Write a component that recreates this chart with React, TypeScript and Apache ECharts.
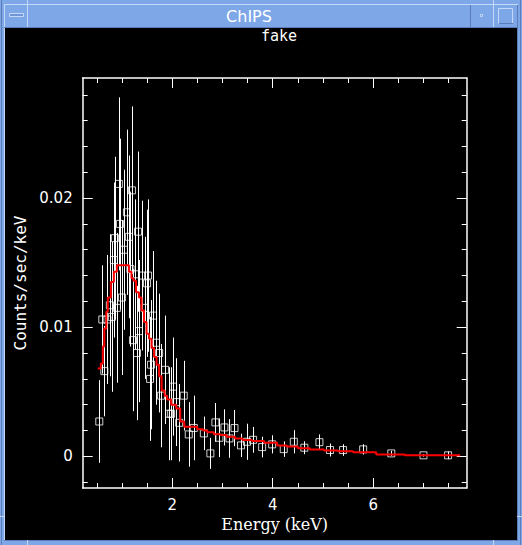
import React, { useEffect, useRef } from "react";
import * as echarts from "echarts";

// Observed spectrum (binned), keV / counts per sec per keV
const energy = [
  0.55, 0.61, 0.65, 0.71, 0.76, 0.8, 0.84, 0.86, 0.9, 0.94, 0.96, 1.0, 1.04, 1.1, 1.14, 1.17, 1.2, 1.22,
  1.26, 1.3, 1.32, 1.34, 1.4, 1.45, 1.5, 1.52, 1.56, 1.58, 1.62, 1.68, 1.74, 1.78, 1.86, 1.94, 1.98, 2.02,
  2.08, 2.14, 2.23, 2.33, 2.43, 2.63, 2.76, 2.86, 2.94, 3.04, 3.14, 3.24, 3.37, 3.49, 3.61, 3.79, 3.99,
  4.22, 4.42, 4.63, 4.93, 5.14, 5.4, 5.8, 6.36, 7.0, 7.49,
];
const rate = [
  0.0027, 0.0106, 0.0066, 0.0106, 0.0117, 0.0108, 0.0152, 0.0169, 0.0115, 0.0211, 0.018, 0.0123, 0.016,
  0.0189, 0.017, 0.0145, 0.0206, 0.009, 0.0141, 0.008, 0.0174, 0.0097, 0.014, 0.0115, 0.0134, 0.014,
  0.006, 0.0071, 0.0109, 0.0088, 0.008, 0.0047, 0.0067, 0.0033, 0.0033, 0.0054, 0.0042, 0.0026, 0.0047,
  0.0017, 0.0022, 0.00178, 0.00023, 0.00263, 0.00144, 0.00224, 0.00139, 0.00219, 0.00085, 0.00113,
  0.00128, 0.00072, 0.00093, 0.00056, 0.00113, 0.00067, 0.0011, 0.00049, 0.00049, 0.00054, 0.00023,
  0.00008, 0.00008,
];
const rateErr = [
  0.0032, 0.0042, 0.0035, 0.005, 0.0055, 0.0058, 0.006, 0.0063, 0.0058, 0.0067, 0.0066, 0.006, 0.0062,
  0.0064, 0.0063, 0.006, 0.0065, 0.0055, 0.0058, 0.0052, 0.0062, 0.0055, 0.0058, 0.0055, 0.0057, 0.0059,
  0.0048, 0.005, 0.005, 0.0048, 0.0046, 0.004, 0.0042, 0.0036, 0.0036, 0.0038, 0.0034, 0.003, 0.0027,
  0.0025, 0.0025, 0.0013, 0.0012, 0.0015, 0.0015, 0.0014, 0.0015, 0.0014, 0.0009, 0.0014, 0.001, 0.0008,
  0.0007, 0.0006, 0.0009, 0.0005, 0.0006, 0.0005, 0.00045, 0.0004, 0.0002, 0.0001, 0.0003,
];

// Folded model (histogram: left bin edge, value)
const modelEdge = [
  0.52, 0.58, 0.62, 0.65, 0.69, 0.72, 0.78, 0.84, 0.9, 1.14, 1.19, 1.23, 1.28, 1.34, 1.39, 1.44, 1.49,
  1.54, 1.59, 1.64, 1.69, 1.74, 1.79, 1.85, 1.9, 1.98, 2.08, 2.16, 2.24, 2.5, 2.62, 2.7, 2.83, 2.96, 3.08,
  3.25, 3.4, 3.59, 3.83, 4.09, 4.28, 4.5, 4.74, 5.02, 5.3, 5.6, 6.06, 6.63, 7.73,
];
const modelRate = [
  0.0068, 0.0072, 0.0085, 0.0099, 0.0112, 0.0123, 0.0135, 0.0143, 0.0148, 0.0143, 0.0138, 0.0136, 0.0127,
  0.0123, 0.0113, 0.0104, 0.0095, 0.0091, 0.0084, 0.0077, 0.0071, 0.0062, 0.0051, 0.0047, 0.0044, 0.004,
  0.0037, 0.0027, 0.0023, 0.0021, 0.002, 0.00186, 0.00172, 0.00165, 0.00152, 0.00139, 0.00126, 0.00118,
  0.00105, 0.00085, 0.00077, 0.00062, 0.00054, 0.00046, 0.00039, 0.00031, 0.00015, 0.00008, 0.00008,
];

const xTickMajor = [2, 4, 6];
const xTickMinor = [0.5, 1, 1.5, 2.5, 3, 3.5, 4.5, 5, 5.5, 6.5, 7, 7.5];
const yTickMajor = [0, 0.01, 0.02];
const yTickMinor = [-0.002, 0.002, 0.004, 0.006, 0.008, 0.012, 0.014, 0.016, 0.018, 0.022, 0.024, 0.026, 0.028];

const X_MIN = 0.22;
const X_MAX = 7.86;
const Y_MIN = -0.00245;
const Y_MAX = 0.0293;

const W = 522;
const H = 545;
const BLUE = "#7ea7e7";
const LIGHT = "#c4d8f8";
const DARK = "#5a7cb8";

export default function App() {
  const ref = useRef<HTMLDivElement>(null);

  useEffect(() => {
    if (!ref.current) return;
    document.body.style.margin = "0";
    const chart = echarts.init(ref.current, undefined, { renderer: "svg", width: W, height: H });

    const gridBox = {
      left: 82.7,
      top: 78,
      right: W - 466.7,
      bottom: H - 488,
      containLabel: false,
      outerBoundsMode: "none",
    };

    const white = "#ffffff";
    const mkX = (grid: number, pos: string, major: boolean) => ({
      type: "value",
      gridIndex: grid,
      position: pos,
      min: X_MIN,
      max: X_MAX,
      axisLine: { show: major, onZero: false, lineStyle: { color: white, width: 1.5 } },
      axisTick: {
        show: true,
        inside: true,
        length: major ? 10 : 5,
        customValues: major ? xTickMajor : xTickMinor,
        lineStyle: { color: white, width: 1 },
      },
      axisLabel:
        major && pos === "bottom"
          ? {
              show: true,
              customValues: xTickMajor,
              color: white,
              fontSize: 15,
              fontFamily: "DejaVu Sans",
              margin: 9,
            }
          : { show: false },
      splitLine: { show: false },
      ...(major && pos === "bottom"
        ? {
            name: "Energy (keV)",
            nameLocation: "middle",
            nameGap: 28,
            nameTextStyle: { color: white, fontSize: 16, fontFamily: "DejaVu Serif" },
          }
        : {}),
    });
    const mkY = (grid: number, pos: string, major: boolean) => ({
      type: "value",
      gridIndex: grid,
      position: pos,
      min: Y_MIN,
      max: Y_MAX,
      axisLine: { show: major, onZero: false, lineStyle: { color: white, width: 1.5 } },
      axisTick: {
        show: true,
        inside: true,
        length: major ? 10 : 5,
        customValues: major ? yTickMajor : yTickMinor,
        lineStyle: { color: white, width: 1 },
      },
      axisLabel:
        major && pos === "left"
          ? {
              show: true,
              customValues: yTickMajor,
              color: white,
              fontSize: 15,
              fontFamily: "DejaVu Sans",
              margin: 10,
            }
          : { show: false },
      splitLine: { show: false },
      ...(major && pos === "left"
        ? {
            name: "Counts/sec/keV",
            nameLocation: "middle",
            nameGap: 53,
            nameTextStyle: { color: white, fontSize: 16, fontFamily: "DejaVu Sans Mono" },
          }
        : {}),
    });

    const option: any = {
      animation: false,
      backgroundColor: "#000000",
      title: {
        text: "fake",
        left: 261,
        top: 28,
        padding: 0,
        textStyle: { color: white, fontSize: 15, fontWeight: "normal", fontFamily: "DejaVu Sans Mono" },
      },
      grid: [gridBox, { ...gridBox }],
      xAxis: [mkX(0, "bottom", true), mkX(0, "top", true), mkX(1, "bottom", false), mkX(1, "top", false)],
      yAxis: [mkY(0, "left", true), mkY(0, "right", true), mkY(1, "left", false), mkY(1, "right", false)],
      series: [
        {
          type: "custom",
          name: "errors",
          xAxisIndex: 0,
          yAxisIndex: 0,
          silent: true,
          z: 2,
          clip: true,
          encode: { x: 0, y: [1, 2] },
          data: energy.map((e, i) => [e, rate[i] - rateErr[i], rate[i] + rateErr[i]]),
          renderItem: (_params: any, api: any) => {
            const lo = api.coord([api.value(0), api.value(1)]);
            const hi = api.coord([api.value(0), api.value(2)]);
            return {
              type: "line",
              shape: { x1: Math.round(lo[0]) + 0.5, y1: lo[1], x2: Math.round(hi[0]) + 0.5, y2: hi[1] },
              style: { stroke: white, lineWidth: 1 },
            };
          },
        },
        {
          type: "scatter",
          name: "data",
          xAxisIndex: 0,
          yAxisIndex: 0,
          symbol: "rect",
          symbolSize: 7,
          z: 3,
          itemStyle: { color: "rgba(0,0,0,0)", borderColor: white, borderWidth: 1 },
          data: energy.map((e, i) => [e, rate[i]]),
        },
        {
          type: "line",
          name: "model",
          xAxisIndex: 0,
          yAxisIndex: 0,
          step: "end",
          showSymbol: false,
          z: 4,
          lineStyle: { color: "#ff0000", width: 2 },
          data: modelEdge.map((e, i) => [e, modelRate[i]]),
        },
      ],
      graphic: [
        { type: "rect", shape: { x: 0, y: 0, width: W, height: 28 }, style: { fill: BLUE } },
        { type: "rect", shape: { x: 0, y: 0, width: 5, height: H }, style: { fill: BLUE } },
        { type: "rect", shape: { x: W - 5, y: 0, width: 5, height: H }, style: { fill: BLUE } },
        { type: "rect", shape: { x: 0, y: H - 5, width: W, height: 5 }, style: { fill: BLUE } },
        { type: "line", shape: { x1: 1.5, y1: 0, x2: 1.5, y2: H }, style: { stroke: DARK, lineWidth: 1 } },
        { type: "line", shape: { x1: W - 1.5, y1: 0, x2: W - 1.5, y2: H }, style: { stroke: DARK, lineWidth: 1 } },
        { type: "line", shape: { x1: 4.5, y1: 4, x2: 4.5, y2: H - 4 }, style: { stroke: LIGHT, lineWidth: 1 } },
        { type: "line", shape: { x1: W - 4.5, y1: 4, x2: W - 4.5, y2: H - 4 }, style: { stroke: DARK, lineWidth: 1 } },
        { type: "line", shape: { x1: 4, y1: 4.5, x2: W - 4, y2: 4.5 }, style: { stroke: LIGHT, lineWidth: 1 } },
        { type: "line", shape: { x1: 4, y1: 27.5, x2: W - 4, y2: 27.5 }, style: { stroke: DARK, lineWidth: 1 } },
        { type: "line", shape: { x1: 4, y1: H - 4.5, x2: W - 4, y2: H - 4.5 }, style: { stroke: DARK, lineWidth: 1 } },
        { type: "line", shape: { x1: 27.5, y1: 0, x2: 27.5, y2: 27 }, style: { stroke: LIGHT, lineWidth: 1 } },
        { type: "line", shape: { x1: 470.5, y1: 5, x2: 470.5, y2: 27 }, style: { stroke: DARK, lineWidth: 1 } },
        { type: "line", shape: { x1: 493.5, y1: 0, x2: 493.5, y2: 27 }, style: { stroke: LIGHT, lineWidth: 1 } },
        { type: "line", shape: { x1: 27.5, y1: H - 5, x2: 27.5, y2: H }, style: { stroke: LIGHT, lineWidth: 1 } },
        { type: "line", shape: { x1: 493.5, y1: H - 5, x2: 493.5, y2: H }, style: { stroke: LIGHT, lineWidth: 1 } },
        { type: "line", shape: { x1: 0, y1: 516.5, x2: 5, y2: 516.5 }, style: { stroke: LIGHT, lineWidth: 1 } },
        { type: "line", shape: { x1: W - 5, y1: 516.5, x2: W, y2: 516.5 }, style: { stroke: LIGHT, lineWidth: 1 } },
        {
          type: "rect",
          shape: { x: 9.5, y: 13.5, width: 14, height: 3 },
          style: { fill: "#6f97d8", stroke: LIGHT, lineWidth: 1 },
        },
        {
          type: "rect",
          shape: { x: 480.5, y: 14.5, width: 2, height: 2 },
          style: { fill: "#6f97d8", stroke: LIGHT, lineWidth: 1 },
        },
        {
          type: "rect",
          shape: { x: 498.5, y: 8.5, width: 14, height: 15 },
          style: { fill: BLUE, stroke: LIGHT, lineWidth: 1 },
        },
        {
          type: "line",
          shape: { x1: 499, y1: 23.5, x2: 513, y2: 23.5 },
          style: { stroke: DARK, lineWidth: 1 },
        },
        {
          type: "text",
          x: 249,
          y: 16,
          style: {
            text: "ChIPS",
            fill: "#ffffff",
            fontSize: 16,
            fontFamily: "DejaVu Sans",
            align: "center",
            verticalAlign: "middle",
          },
        },
      ],
    };

    chart.setOption(option);
    return () => chart.dispose();
  }, []);

  return <div ref={ref} style={{ width: W, height: H, position: "absolute", left: 0, top: 0 }} />;
}
